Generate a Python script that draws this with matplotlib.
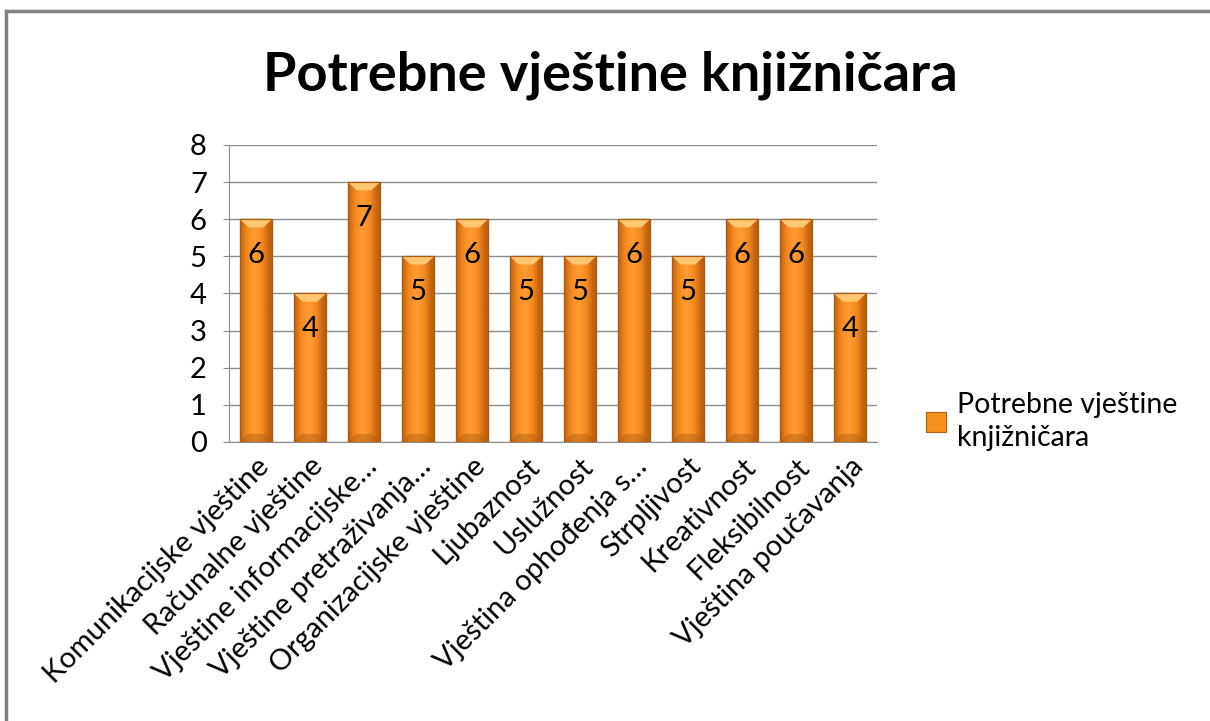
import numpy as np
import matplotlib
matplotlib.use("Agg")
import matplotlib.pyplot as plt
from matplotlib.lines import Line2D
from matplotlib.patches import Rectangle, Polygon

plt.rcParams['font.family'] = ['Lato', 'DejaVu Sans']

categories = ["Komunikacijske vještine", "Računalne vještine", "Vještine informacijske…",
              "Vještine pretraživanja…", "Organizacijske vještine", "Ljubaznost",
              "Uslužnost", "Vještina ophođenja s…", "Strpljivost", "Kreativnost",
              "Fleksibilnost", "Vještina poučavanja"]
values = [6, 4, 7, 5, 6, 5, 5, 6, 5, 6, 6, 4]
series_name = "Potrebne vještine\nknjižničara"
title = "Potrebne vještine knjižničara"
yticks = [0, 1, 2, 3, 4, 5, 6, 7, 8]

W, H = 1210, 721
fig = plt.figure(figsize=(W / 100, H / 100), dpi=100)
ax = fig.add_axes([229 / W, 1 - 442 / H, (877 - 229) / W, (442 - 145) / H])

x = np.arange(len(categories))
bw = 0.6
bars = ax.bar(x, values, width=bw, color='#F7901E', edgecolor='#B85E10', linewidth=0.8, zorder=3)

# horizontal gradient image clipped to each bar
grad = np.linspace(0, 1, 256)
prof = np.clip(1 - np.abs(grad - 0.45) * 2.2, 0, 1)
cmap = matplotlib.colors.LinearSegmentedColormap.from_list(
    'o', ['#C0600E', '#F58A1F', '#FF9D35'])
img = np.tile(prof, (2, 1))
for b, v in zip(bars, values):
    x0 = b.get_x()
    im = ax.imshow(img, cmap=cmap, extent=[x0, x0 + bw, 0, v], aspect='auto',
                   zorder=3.5, interpolation='bilinear')
    im.set_clip_path(b)
    # top bevel
    ax.add_patch(Polygon([[x0, v], [x0 + bw, v], [x0 + bw * 0.72, v - 0.22], [x0 + bw * 0.28, v - 0.22]],
                         closed=True, facecolor='#FFC772', edgecolor='none', zorder=3.7))
    # bottom shade
    ax.add_patch(Polygon([[x0, 0], [x0 + bw, 0], [x0 + bw * 0.75, 0.22], [x0 + bw * 0.25, 0.22]],
                         closed=True, facecolor='#A85A12', alpha=0.45, edgecolor='none', zorder=3.7))
    ax.add_patch(Rectangle((x0, 0), bw, v, facecolor='none', edgecolor='#A85A10', linewidth=0.9, zorder=3.8))
    ax.annotate(str(v), (x0 + bw / 2, v), xytext=(0, -36), textcoords='offset pixels',
                ha='center', va='center', fontsize=21, color='black', zorder=5)

ax.set_xlim(-0.5, len(categories) - 0.5)
ax.set_ylim(0, 8)
ax.set_yticks(yticks)
ax.yaxis.grid(True, color='#8C8C8C', linewidth=1.0, zorder=0)
ax.set_axisbelow(True)
for s in ['top', 'right']:
    ax.spines[s].set_visible(False)
ax.spines['left'].set_color('#8C8C8C')
ax.spines['bottom'].set_color('#8C8C8C')
ax.tick_params(axis='y', length=4, color='#8C8C8C', labelsize=21, pad=12)
ax.tick_params(axis='x', length=0, labelsize=21, pad=8)
ax.set_xticks(x)
ax.set_xticklabels(categories, rotation=45, ha='right', va='top', rotation_mode='anchor')
ax.set_xlim(-0.5, len(categories) - 0.5)

fig.text(610 / W, 1 - 75 / H, title, ha='center', va='center', fontsize=39, fontweight='bold')

# legend
leg = ax.legend([bars[0]], [series_name], loc='upper left', bbox_to_anchor=(900 / W, 1 - 366 / H),
                bbox_transform=fig.transFigure, frameon=False, fontsize=20.5,
                handlelength=0.7, handleheight=0.7, handletextpad=0.4, labelspacing=0.2)
for t in leg.get_texts():
    t.set_linespacing(1.35)

# frame lines
fig.add_artist(Line2D([6 / W, 6 / W], [0, 1 - 11 / H], color='#808080', linewidth=2.5))
fig.add_artist(Line2D([6 / W, 1], [1 - 11 / H, 1 - 11 / H], color='#808080', linewidth=2.5))

fig.savefig('out.png', dpi=100)
